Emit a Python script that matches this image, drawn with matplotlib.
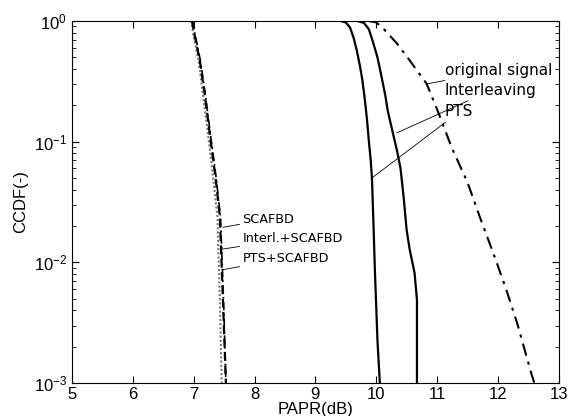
import matplotlib
matplotlib.use('Agg')
import matplotlib.pyplot as plt

# CCDF curves (PAPR in dB, CCDF)
orig_x = [9.86, 10.0, 10.11, 10.34, 10.55, 10.83, 11.01, 11.21, 11.26, 11.50, 11.70, 11.95,
          12.14, 12.32, 12.55, 12.60]
orig_y = [1.0, 0.97, 0.87, 0.65, 0.47, 0.30, 0.18, 0.098, 0.085, 0.046, 0.024, 0.011,
          0.0059, 0.0031, 0.0012, 0.001]

inter_x = [9.68, 9.80, 9.88, 9.95, 10.02, 10.09, 10.15, 10.19, 10.27, 10.34, 10.40, 10.45,
           10.50, 10.55, 10.63, 10.67, 10.67]
inter_y = [1.0, 0.96, 0.85, 0.66, 0.50, 0.34, 0.24, 0.18, 0.12, 0.085, 0.06, 0.035,
           0.0186, 0.0128, 0.0082, 0.0049, 0.001]

pts_x = [9.40, 9.50, 9.57, 9.63, 9.68, 9.73, 9.77, 9.81, 9.85, 9.88, 9.91, 9.93, 9.95,
         9.98, 10.02, 10.06]
pts_y = [1.0, 0.97, 0.88, 0.72, 0.57, 0.43, 0.33, 0.23, 0.15, 0.10, 0.07, 0.05, 0.025,
         0.0082, 0.0023, 0.001]

scafbd_x = [6.97, 7.02, 7.10, 7.18, 7.27, 7.36, 7.43, 7.48, 7.53]
scafbd_y = [1.0, 0.74, 0.47, 0.25, 0.11, 0.05, 0.024, 0.005, 0.001]

interl_scafbd_x = [6.96, 7.00, 7.08, 7.15, 7.24, 7.32, 7.39, 7.43, 7.46]
interl_scafbd_y = [1.0, 0.74, 0.47, 0.25, 0.11, 0.05, 0.024, 0.005, 0.001]

pts_scafbd_x = [6.98, 7.03, 7.11, 7.19, 7.28, 7.37, 7.44, 7.49, 7.53]
pts_scafbd_y = [1.0, 0.74, 0.47, 0.25, 0.11, 0.05, 0.024, 0.005, 0.001]

x_ticks = [5, 6, 7, 8, 9, 10, 11, 12, 13]

font = 'Liberation Sans'
lab_font = 'DejaVu Sans'

fig = plt.figure(figsize=(5.76, 4.16), dpi=100)
ax = fig.add_axes([0.125, 0.079, 0.845, 0.871])

ax.plot(orig_x, orig_y, color='black', lw=1.5, linestyle=(0, (6, 3, 1.5, 3)))
ax.plot(inter_x, inter_y, color='black', lw=1.6)
ax.plot(pts_x, pts_y, color='black', lw=1.6)
ax.plot(interl_scafbd_x, interl_scafbd_y, color='#777777', lw=1.5, linestyle=(0, (1, 1)))
ax.plot(scafbd_x, scafbd_y, color='black', lw=1.6, linestyle=(0, (4, 2)))
ax.plot(pts_scafbd_x, pts_scafbd_y, color='black', lw=1.2, linestyle=(0, (5, 2, 1, 2)))

ax.set_yscale('log')
ax.set_xlim(5, 13)
ax.set_ylim(1e-3, 1)
ax.set_xticks(x_ticks)
ax.set_xticklabels([str(t) for t in x_ticks], fontsize=12, family=font)
for lab in ax.get_yticklabels():
    lab.set_fontsize(12)
    lab.set_family(font)
ax.tick_params(which='both', direction='in', top=True, right=True)
ax.tick_params(which='major', length=5)
ax.tick_params(which='minor', length=3)
ax.tick_params(axis='x', pad=3)
ax.set_xlabel('PAPR(dB)', fontsize=12, family=font, labelpad=0)
ax.set_ylabel('CCDF(-)', fontsize=12, family=font, labelpad=4)

line = dict(arrowstyle='-', lw=0.6, color='black', shrinkA=0, shrinkB=0)

# right-hand labels
ax.annotate('original signal', xy=(10.83, 0.30), xytext=(11.13, 0.39),
            fontsize=11, family=lab_font, va='center', arrowprops=line)
ax.annotate('Interleaving', xy=(10.34, 0.118), xytext=(11.13, 0.265),
            fontsize=11, family=lab_font, va='center', arrowprops=line)
ax.annotate('PTS', xy=(9.93, 0.050), xytext=(11.13, 0.176),
            fontsize=11, family=lab_font, va='center', arrowprops=line)

# left-hand labels
ax.annotate('SCAFBD', xy=(7.48, 0.0195), xytext=(7.80, 0.0228),
            fontsize=9.2, family=lab_font, va='center', arrowprops=line)
ax.annotate('Interl.+SCAFBD', xy=(7.44, 0.0128), xytext=(7.80, 0.0158),
            fontsize=9.2, family=lab_font, va='center', arrowprops=line)
ax.annotate('PTS+SCAFBD', xy=(7.48, 0.0087), xytext=(7.80, 0.0108),
            fontsize=9.2, family=lab_font, va='center', arrowprops=line)

fig.savefig('out.png', dpi=100)
